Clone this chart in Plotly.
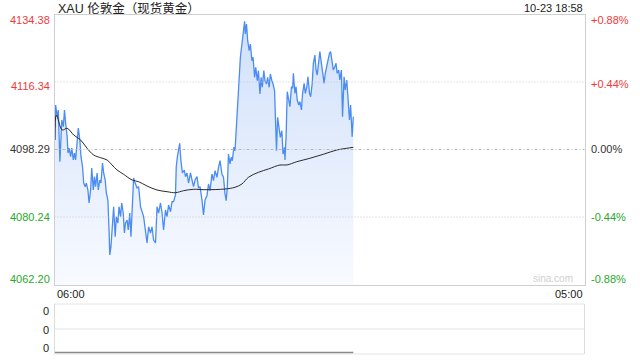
import plotly.graph_objects as go

# ---------------- data ----------------
title_text = "XAU 伦敦金（现货黄金）"
timestamp_text = "10-23 18:58"
prev_close = 4098.29
session_minutes = 1380  # 06:00 -> 05:00 next day
x_tick_labels = ["06:00", "05:00"]
price_ticks = [4134.38, 4116.34, 4098.29, 4080.24, 4062.20]
pct_labels = ["+0.88%", "+0.44%", "0.00%", "-0.44%", "-0.88%"]

minutes = [1, 3, 7, 10, 14, 19, 23, 26, 29, 33, 35, 38, 42, 45, 49, 52, 55, 59, 62, 66,
           69, 73, 76, 80, 83, 87, 90, 94, 97, 101, 104, 107, 111, 114, 118, 121, 125, 128, 132, 135,
           139, 142, 144, 147, 151, 154, 158, 161, 165, 168, 172, 175, 179, 182, 185, 189, 192, 196, 199, 203,
           206, 209, 215, 219, 224, 232, 237, 241, 245, 250, 254, 258, 263, 267, 271, 276, 280, 284, 289, 293,
           297, 302, 306, 310, 315, 317, 320, 326, 329, 333, 338, 341, 345, 349, 354, 358, 362, 366, 371, 375,
           379, 384, 388, 392, 397, 401, 405, 410, 414, 418, 423, 427, 431, 436, 440, 444, 447, 450, 453, 457,
           460, 463, 467, 470, 474, 477, 481, 484, 488, 491, 495, 497, 500, 503, 507, 510, 514, 517, 521, 524,
           528, 531, 535, 538, 541, 545, 548, 552, 555, 559, 562, 566, 569, 573, 576, 578, 581, 585, 588, 592,
           595, 599, 600, 603, 606, 610, 613, 617, 620, 622, 626, 629, 632, 636, 639, 643, 646, 650, 653, 657,
           660, 664, 667, 671, 674, 678, 681, 684, 688, 691, 695, 698, 702, 705, 709, 712, 716, 719, 723, 726,
           730, 733, 736, 740, 743, 747, 750, 754, 757, 761, 764, 768, 771, 775, 778]
prices = [4100.83, 4110.19, 4107.06, 4108.85, 4095.03, 4106.18, 4104.39, 4108.85, 4105.37, 4101.71,
          4097.35, 4098.69, 4096.37, 4098.69, 4095.48, 4097.35, 4095.48, 4100.83, 4104.04, 4100.83,
          4096.37, 4093.69, 4089.33, 4088.35, 4089.33, 4087.46, 4083.99, 4087.46, 4093.34, 4087.46,
          4091.02, 4088.35, 4092.01, 4087.46, 4090.14, 4089.33, 4094.68, 4092.01, 4090.14, 4086.66,
          4084.79, 4076.77, 4070.09, 4072.31, 4078.64, 4083.00, 4074.98, 4080.33, 4078.64, 4083.00,
          4080.33, 4083.99, 4081.31, 4075.97, 4078.64, 4079.44, 4076.77, 4081.31, 4074.98, 4083.99,
          4090.67, 4089.60, 4088.00, 4088.35, 4083.00, 4080.33, 4076.77, 4073.29, 4077.65, 4075.97,
          4077.65, 4074.10, 4073.29, 4083.00, 4081.31, 4083.99, 4081.31, 4076.77, 4082.12, 4080.33,
          4083.45, 4081.66, 4084.34, 4084.34, 4086.13, 4093.69, 4096.37, 4099.95, 4095.48, 4092.01,
          4092.81, 4091.02, 4092.01, 4089.33, 4092.01, 4090.14, 4088.35, 4090.14, 4091.02, 4088.00,
          4088.35, 4084.79, 4080.78, 4084.79, 4085.94, 4089.07, 4087.28, 4091.74, 4089.95, 4092.62,
          4090.86, 4093.53, 4095.30, 4091.74, 4090.86, 4086.39, 4084.60, 4088.19, 4097.09, 4094.41,
          4096.21, 4095.30, 4098.88, 4097.97, 4105.99, 4109.57, 4116.68, 4122.94, 4126.49, 4129.17,
          4132.56, 4129.17, 4131.84, 4127.38, 4124.70, 4126.49, 4122.03, 4122.94, 4117.59, 4120.26,
          4116.68, 4119.36, 4113.13, 4117.59, 4114.92, 4119.36, 4116.68, 4115.80, 4117.59, 4114.92,
          4118.47, 4116.68, 4115.80, 4114.01, 4105.99, 4097.97, 4106.90, 4104.23, 4101.55, 4103.32,
          4097.09, 4098.88, 4095.48, 4101.71, 4113.74, 4111.52, 4109.73, 4115.08, 4114.65, 4118.66,
          4113.31, 4115.08, 4111.52, 4110.19, 4111.07, 4108.85, 4113.31, 4115.99, 4113.31, 4115.08,
          4117.75, 4113.31, 4112.41, 4115.99, 4121.33, 4123.55, 4119.54, 4118.21, 4122.22, 4124.44,
          4121.33, 4118.66, 4115.99, 4118.66, 4120.43, 4122.22, 4124.01, 4124.44, 4122.22, 4119.54,
          4120.43, 4121.33, 4118.66, 4119.54, 4116.87, 4119.54, 4107.06, 4117.75, 4114.20, 4116.87,
          4112.41, 4106.18, 4110.19, 4101.71, 4107.06]

avg_minutes = [1, 5, 20, 33, 50, 68, 85, 102, 120, 137, 150, 163, 180, 202, 219, 241, 267, 293,
               315, 336, 362, 392, 444, 470, 488, 505, 531, 557, 587, 605, 631, 665, 700, 735, 761, 778]
avg_prices = [4100.83, 4107.51, 4103.50, 4103.96, 4102.17, 4100.83, 4098.61, 4096.82, 4096.10,
              4095.48, 4094.15, 4092.81, 4091.66, 4090.14, 4089.68, 4088.53, 4087.46, 4087.01,
              4086.74, 4087.28, 4087.65, 4087.54, 4087.73, 4088.19, 4089.07, 4090.86, 4092.19,
              4093.08, 4094.15, 4094.15, 4095.03, 4095.94, 4097.01, 4098.16, 4098.61, 4098.88]

volume = [0 for _ in minutes]
volume_labels = ["0", "0", "0"]

# ---------------- style ----------------
RED = "#f03a3a"
GREEN = "#2aa82a"
DARK = "#333333"
label_colors = [RED, RED, DARK, GREEN, GREEN]
NUM_FONT = "Liberation Sans, Arial, sans-serif"
CJK_FONT = "Liberation Sans, Noto Sans CJK SC, sans-serif"

X0, X1 = 54.5 / 640, 584.5 / 640
MAIN_TOP, MAIN_BOT = 1 - 14.5 / 360, 1 - 284.5 / 360
VOL_TOP, VOL_BOT = 1 - 304 / 360, 1 - 354 / 360

fig = go.Figure()

fig.add_trace(go.Scatter(
    x=minutes, y=prices, mode="lines",
    line=dict(color="#4a8cf2", width=1.3),
    fill="tozeroy",
    fillgradient=dict(type="vertical", start=price_ticks[-1], stop=max(prices),
                      colorscale=[[0, "rgba(248,250,255,1)"], [1, "rgba(208,224,250,1)"]]),
    hoverinfo="skip", xaxis="x", yaxis="y"))

fig.add_trace(go.Scatter(
    x=avg_minutes, y=avg_prices, mode="lines", line=dict(color="#2a2a2a", width=1, shape="spline"),
    hoverinfo="skip", xaxis="x", yaxis="y"))

fig.add_trace(go.Scatter(
    x=minutes, y=volume, mode="lines", line=dict(color="#8a8a8a", width=1.5),
    hoverinfo="skip", xaxis="x2", yaxis="y2"))

box_line = dict(showline=True, linecolor="#cfcfcf", linewidth=1, mirror=True,
                showgrid=False, zeroline=False, showticklabels=False, ticks="")

fig.update_layout(
    width=640, height=360, margin=dict(l=0, r=0, t=0, b=0),
    paper_bgcolor="white", plot_bgcolor="white", showlegend=False,
    xaxis=dict(domain=[X0, X1], range=[0, session_minutes], **box_line),
    yaxis=dict(domain=[MAIN_BOT, MAIN_TOP], range=[price_ticks[-1], price_ticks[0]], **box_line),
    xaxis2=dict(domain=[X0, X1], range=[0, session_minutes], anchor="y2",
                showline=False, showgrid=False, zeroline=False, showticklabels=False),
    yaxis2=dict(domain=[VOL_BOT, VOL_TOP], range=[-0.03, 1], anchor="x2",
                showline=False, showgrid=False, zeroline=False, showticklabels=False),
)

shapes = []
# main gridlines
shapes.append(dict(type="line", xref="x domain", yref="y", x0=0, x1=1, y0=price_ticks[1], y1=price_ticks[1],
                   line=dict(color="#c8c8c8", width=1, dash="1px,2px")))
shapes.append(dict(type="line", xref="x domain", yref="y", x0=0, x1=1, y0=price_ticks[2], y1=price_ticks[2],
                   line=dict(color="#b8b8b8", width=1, dash="3px,2px,1px,2px")))
shapes.append(dict(type="line", xref="x domain", yref="y", x0=0, x1=1, y0=price_ticks[3], y1=price_ticks[3],
                   line=dict(color="#c8c8c8", width=1, dash="1px,2px")))
# volume panel frame
for yv in [VOL_TOP, (VOL_TOP + VOL_BOT) / 2, VOL_BOT]:
    shapes.append(dict(type="line", xref="paper", yref="paper", x0=X0, x1=X1, y0=yv, y1=yv,
                       line=dict(color="#c8c8c8", width=1, dash="1px,1px")))
for xv in [X0, X1]:
    shapes.append(dict(type="line", xref="paper", yref="paper", x0=xv, x1=xv, y0=VOL_BOT, y1=VOL_TOP,
                       line=dict(color="#dcdcdc", width=1)))
fig.update_layout(shapes=shapes)

ann = []
ann.append(dict(text=title_text, xref="paper", yref="paper", x=56 / 640, y=1 - 8 / 360,
                xanchor="left", yanchor="middle", showarrow=False,
                font=dict(family=CJK_FONT, size=12.5, color="#222")))
ann.append(dict(text=timestamp_text, xref="paper", yref="paper", x=X1, y=1 - 8 / 360,
                xanchor="right", yanchor="middle", showarrow=False,
                font=dict(family=NUM_FONT, size=11, color="#222")))
shifts = [-6, -4, 1, -0, 6]
for i, (val, pct) in enumerate(zip(price_ticks, pct_labels)):
    ann.append(dict(text=f"{val:.2f}", xref="paper", yref="y", x=51.5 / 640, y=val, yshift=shifts[i],
                    xanchor="right", yanchor="middle", showarrow=False,
                    font=dict(family=NUM_FONT, size=11, color=label_colors[i])))
    ann.append(dict(text=pct, xref="paper", yref="y", x=589 / 640, y=val, yshift=shifts[i] + 2 if i in (1,) else shifts[i],
                    xanchor="left", yanchor="middle", showarrow=False,
                    font=dict(family=NUM_FONT, size=11, color=label_colors[i])))
ann.append(dict(text=x_tick_labels[0], xref="paper", yref="paper", x=X0, y=1 - 293.5 / 360,
                xanchor="left", yanchor="middle", showarrow=False,
                font=dict(family=NUM_FONT, size=11, color="#222")))
ann.append(dict(text=x_tick_labels[1], xref="paper", yref="paper", x=X1, y=1 - 293.5 / 360,
                xanchor="right", yanchor="middle", showarrow=False,
                font=dict(family=NUM_FONT, size=11, color="#222")))
ann.append(dict(text="sina.com", xref="paper", yref="paper", x=575 / 640, y=1 - 278 / 360,
                xanchor="right", yanchor="middle", showarrow=False,
                font=dict(family=NUM_FONT, size=10, color="#d0d0d0")))
for lbl, yp in zip(volume_labels, [311, 329.5, 348]):
    ann.append(dict(text=lbl, xref="paper", yref="paper", x=51 / 640, y=1 - yp / 360,
                    xanchor="right", yanchor="middle", showarrow=False,
                    font=dict(family=NUM_FONT, size=11, color="#222")))
fig.update_layout(annotations=ann)

fig.write_html("out.html")
